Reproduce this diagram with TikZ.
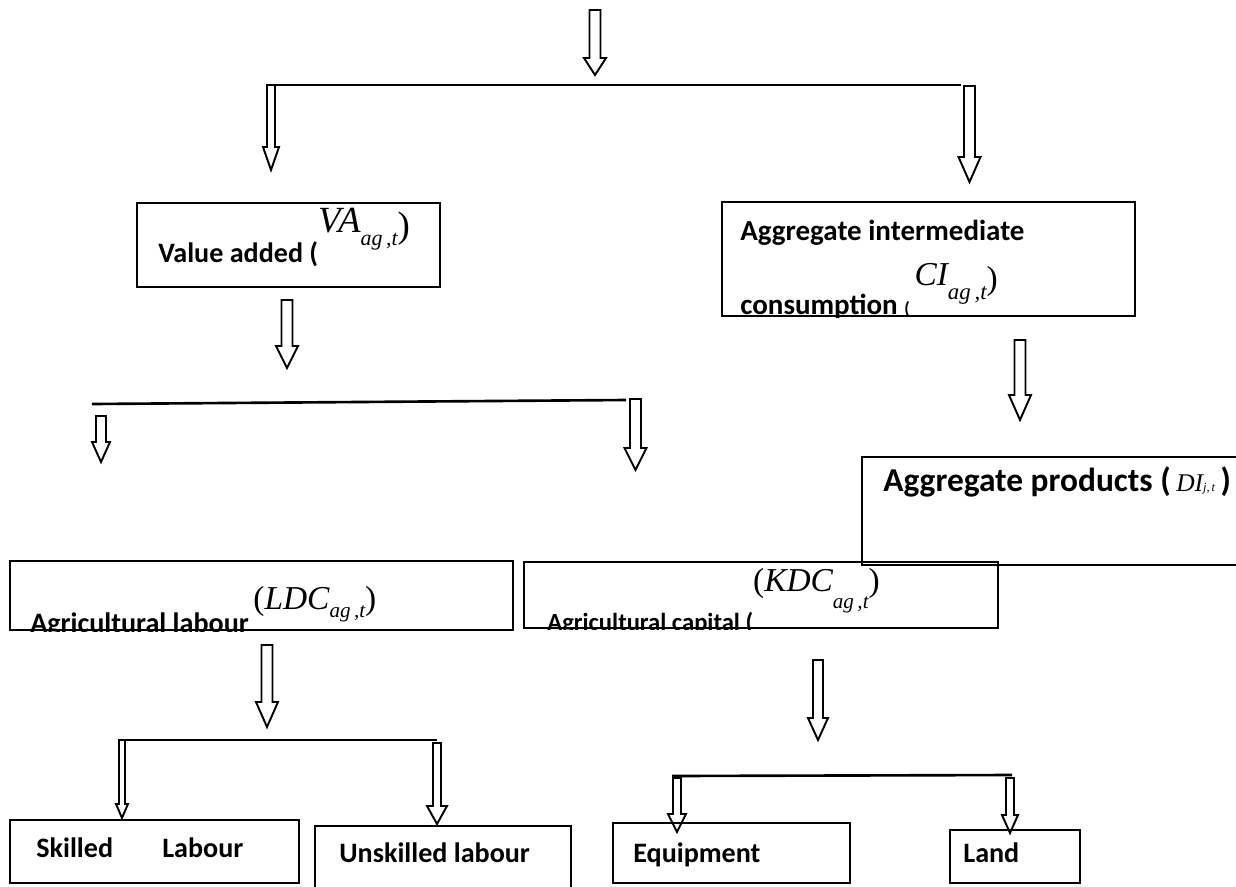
\documentclass[tikz,border=0pt]{standalone}
\usepackage{fontspec}
\setmainfont{Carlito}
\newfontfamily\tms{Liberation Serif}
\usetikzlibrary{calc,fit}

\tikzset{
  box/.style={draw, line width=1.4pt, inner sep=0pt},
  lbl/.style={anchor=base west, inner sep=0pt, font=\bfseries},
  hollow/.style={draw, line width=1.1pt, fill=white, line join=miter},
  bar/.style={line width=1.5pt},
}
% hollow block arrow: x, top, tip, shaft half width, head half width, head length
\newcommand{\blockarrow}[6]{%
  \draw[hollow] ({#1-#4},#2) -- ({#1+#4},#2) -- ({#1+#4},{#3-#6}) -- ({#1+#5},{#3-#6})
    -- (#1,#3) -- ({#1-#5},{#3-#6}) -- ({#1-#4},{#3-#6}) -- cycle;}
% italic symbol ([drop], size, subscript size, symbol, subscript)
\newcommand{\msym}[5][0.25em]{{\tms\mdseries\itshape\fontsize{#2}{#2}\selectfont #4%
  \raisebox{-#1}{\fontsize{#3}{#3}\selectfont #5}}}
\newcommand{\tpar}[2]{{\tms\mdseries\fontsize{#1}{#1}\selectfont #2}}

\begin{document}
\begin{tikzpicture}[x=0.02cm, y=-0.02cm]
  \useasboundingbox (0,0) rectangle (1236,886);

  % top level
  \blockarrow{595}{10}{75}{5.5}{11}{17}
  \coordinate (s1) at (273,85); \coordinate (e1) at (961,85);
  \draw[bar] (s1) -- (e1);
  \blockarrow{271}{85}{170}{4}{8}{23}
  \blockarrow{969.5}{86}{182}{5.5}{11}{25}

  % value added
  \node[box, fit={(137,203) (440,287)}] (va) {};
  \node[lbl, font=\bfseries\fontsize{16}{19}\selectfont] (valbl) at (158,262)
    {Value added (\raisebox{17pt}{\msym[0.35em]{21}{12.5}{VA}{ag\,,t}\raisebox{-3pt}{\tpar{21}{)}}}};

  % intermediate consumption
  \node[box, fit={(722,202) (1135,316)}] (ci) {};
  \begin{scope}
    \clip (ci.south west) rectangle (ci.north east);
    \node[lbl, font=\bfseries\fontsize{16.5}{19}\selectfont] (cilbl) at (740,240) {Aggregate intermediate};
    \node[lbl, font=\bfseries\fontsize{16.5}{19}\selectfont] (cilbl2) at (740,314)
      {consumption {\fontsize{10}{10}\selectfont(}\,\raisebox{16pt}{\msym[0.4em]{19}{13}{CI}{ag\,,t}\raisebox{-2pt}{\tpar{19}{)}}}};
  \end{scope}

  % second level
  \blockarrow{287}{300}{368}{5.5}{11}{22}
  \coordinate (s2) at (92,404); \coordinate (e2) at (626,400);
  \draw[bar] (s2) -- (e2);
  \blockarrow{101}{416}{462}{5}{9}{20}
  \blockarrow{635.5}{399}{470}{5.5}{11}{22}
  \blockarrow{1020}{340}{420}{5.5}{11}{25}

  % aggregate products
  \node[box, fit={(862,457) (1250,565)}] (dp) {};
  \node[lbl, font=\bfseries\fontsize{19}{23}\selectfont] (dplbl) at (883,491)
    {Aggregate products (\,\msym[0pt]{14.5}{7}{DI}{j,\,t}\,)};

  % labour and capital
  \node[box, fit={(10,561) (513,630)}] (ldc) {};
  \begin{scope}
    \clip (ldc.south west) rectangle (ldc.north east);
    \node[lbl, font=\bfseries\fontsize{16}{19}\selectfont] (ldclbl) at (30,632)
      {Agricultural labour\,\raisebox{13pt}{\tpar{19}{(}\msym{19}{12}{LDC}{ag\,,t}\tpar{19}{)}}};
  \end{scope}
  \node[box, fit={(524,562) (998,628)}] (kdc) {};
  \begin{scope}
    \clip (kdc.south west) rectangle (kdc.north east);
    \node[lbl, font=\bfseries\fontsize{14}{17}\selectfont] (kdclbl) at (547,630)
      {Agricultural capital (\raisebox{22pt}{\tpar{19}{(}\msym[0.5em]{19}{12}{KDC}{ag\,,t}\tpar{19}{)}}};
  \end{scope}

  % third level
  \blockarrow{267}{645}{727}{5.5}{11}{25}
  \coordinate (s3) at (120,740); \coordinate (e3) at (437,740);
  \draw[bar] (s3) -- (e3);
  \blockarrow{122}{740}{818}{3}{6}{14}
  \blockarrow{437}{743}{824}{4}{10}{18}

  \blockarrow{818}{660}{740}{5}{10}{22}
  \coordinate (s4) at (672,776); \coordinate (e4) at (1012,775);
  \draw[bar] (s4) -- (e4);
  \blockarrow{677}{778}{832}{4}{9}{18}
  \blockarrow{1010}{778}{833}{4}{8}{18}

  % bottom boxes
  \node[box, fit={(10,820) (299,883)}] (sk) {};
  \node[lbl, font=\bfseries\fontsize{16}{19}\selectfont] (sklbl) at (36,857) {Skilled\hspace{1.75em}Labour};
  \node[box, fit={(315,826) (571,900)}] (un) {};
  \node[lbl, font=\bfseries\fontsize{16}{19}\selectfont] (unlbl) at (339,862) {Unskilled labour};
  \node[box, fit={(613,823) (850,883)}] (eq) {};
  \node[lbl, font=\bfseries\fontsize{16}{19}\selectfont] (eqlbl) at (633,862) {Equipment};
  \node[box, fit={(950,830) (1080,883)}] (ld) {};
  \node[lbl, font=\bfseries\fontsize{16}{19}\selectfont] (ldlbl) at (963,862) {Land};
\end{tikzpicture}
\end{document}
